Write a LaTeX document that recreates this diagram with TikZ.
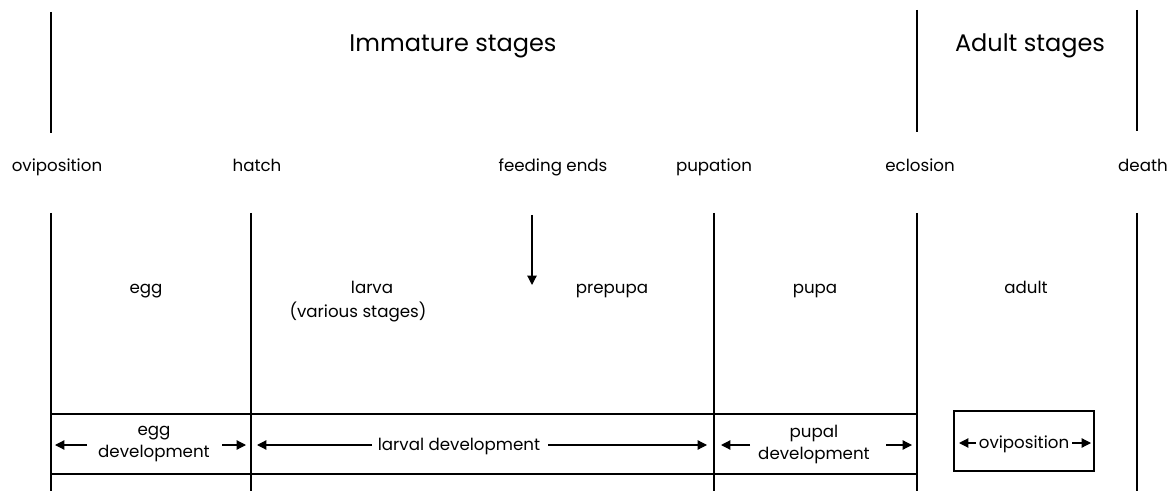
\documentclass[tikz,border=0pt]{standalone}
\usepackage{fontspec}
\setmainfont{Poppins}
\usetikzlibrary{arrows.meta}
\begin{document}
\begin{tikzpicture}[x=0.75pt,y=-0.75pt,
  rule/.style={line width=0.9pt},
  lbl/.style={font=\fontsize{12.5}{14}\selectfont, inner sep=0pt, anchor=base},
  big/.style={font=\fontsize{18}{21}\selectfont, inner sep=0pt, anchor=base},
  dev/.style={font=\fontsize{12.5}{16.5}\selectfont, inner sep=0pt, align=center},
  arr/.style={line width=0.9pt, -{Triangle[length=7pt,width=7pt]}},
  boxed/.style={draw, line width=0.9pt, minimum width=105pt, minimum height=45pt}
]
\useasboundingbox (0,0) rectangle (1176,491);
% top verticals
\coordinate (t1a) at (51,12);   \coordinate (t1b) at (51,133);
\coordinate (t2a) at (917,10);  \coordinate (t2b) at (917,132);
\coordinate (t3a) at (1137,10); \coordinate (t3b) at (1137,131);
\draw[rule] (t1a) -- (t1b);
\draw[rule] (t2a) -- (t2b);
\draw[rule] (t3a) -- (t3b);
\node[big] (imm) at (453,52) {Immature stages};
\node[big] (adl) at (1030,52) {Adult stages};
% event labels
\node[lbl] (ovi) at (57,172) {oviposition};
\node[lbl] (hat) at (257,172) {hatch};
\node[lbl] (fee) at (553,172) {feeding ends};
\node[lbl] (pup) at (714,172) {pupation};
\node[lbl] (ecl) at (920,172) {eclosion};
\node[lbl] (dea) at (1143,172) {death};
% lower verticals
\foreach \n/\x in {a/51,b/251,c/714,d/917,e/1137}{
  \coordinate (v\n1) at (\x,213);
  \coordinate (v\n2) at (\x,491);
  \draw[rule] (v\n1) -- (v\n2);
}
% horizontal rules
\coordinate (h1a) at (51,414); \coordinate (h1b) at (917,414);
\coordinate (h2a) at (51,474); \coordinate (h2b) at (917,474);
\draw[rule] (h1a) -- (h1b);
\draw[rule] (h2a) -- (h2b);
% feeding ends arrow
\coordinate (fa) at (532,215); \coordinate (fb) at (532,285);
\draw[arr] (fa) -- (fb);
% stage names
\node[lbl] (egg) at (146,294) {egg};
\node[lbl] (lar) at (372,294) {larva};
\node[lbl] (var) at (358,317) {(various stages)};
\node[lbl] (pre) at (612,294) {prepupa};
\node[lbl] (pupa) at (815,294) {pupa};
\node[lbl] (adu) at (1026,294) {adult};
% development
\node[dev] (eggdev) at (154,444) {egg\\development};
\coordinate (e1a) at (87,445); \coordinate (e1b) at (55,445);
\coordinate (e2a) at (222,445); \coordinate (e2b) at (246,445);
\draw[arr] (e1a) -- (e1b);
\draw[arr] (e2a) -- (e2b);
\node[lbl] (lardev) at (459,450) {larval development};
\coordinate (l1a) at (372,445); \coordinate (l1b) at (257,445);
\coordinate (l2a) at (548,445); \coordinate (l2b) at (707,445);
\draw[arr] (l1a) -- (l1b);
\draw[arr] (l2a) -- (l2b);
\node[dev] (pupdev) at (814,444) {pupal\\development};
\coordinate (p1a) at (750,445); \coordinate (p1b) at (721,445);
\coordinate (p2a) at (886,445); \coordinate (p2b) at (912,445);
\draw[arr] (p1a) -- (p1b);
\draw[arr] (p2a) -- (p2b);
% adult oviposition box
\node[boxed] (ovibox) at (1024,441) {};
\node[lbl] (ovitxt) at (1024,448) {oviposition};
\coordinate (o1a) at (976,443); \coordinate (o1b) at (959,443);
\coordinate (o2a) at (1072,443); \coordinate (o2b) at (1091,443);
\draw[arr] (o1a) -- (o1b);
\draw[arr] (o2a) -- (o2b);
\end{tikzpicture}
\end{document}
